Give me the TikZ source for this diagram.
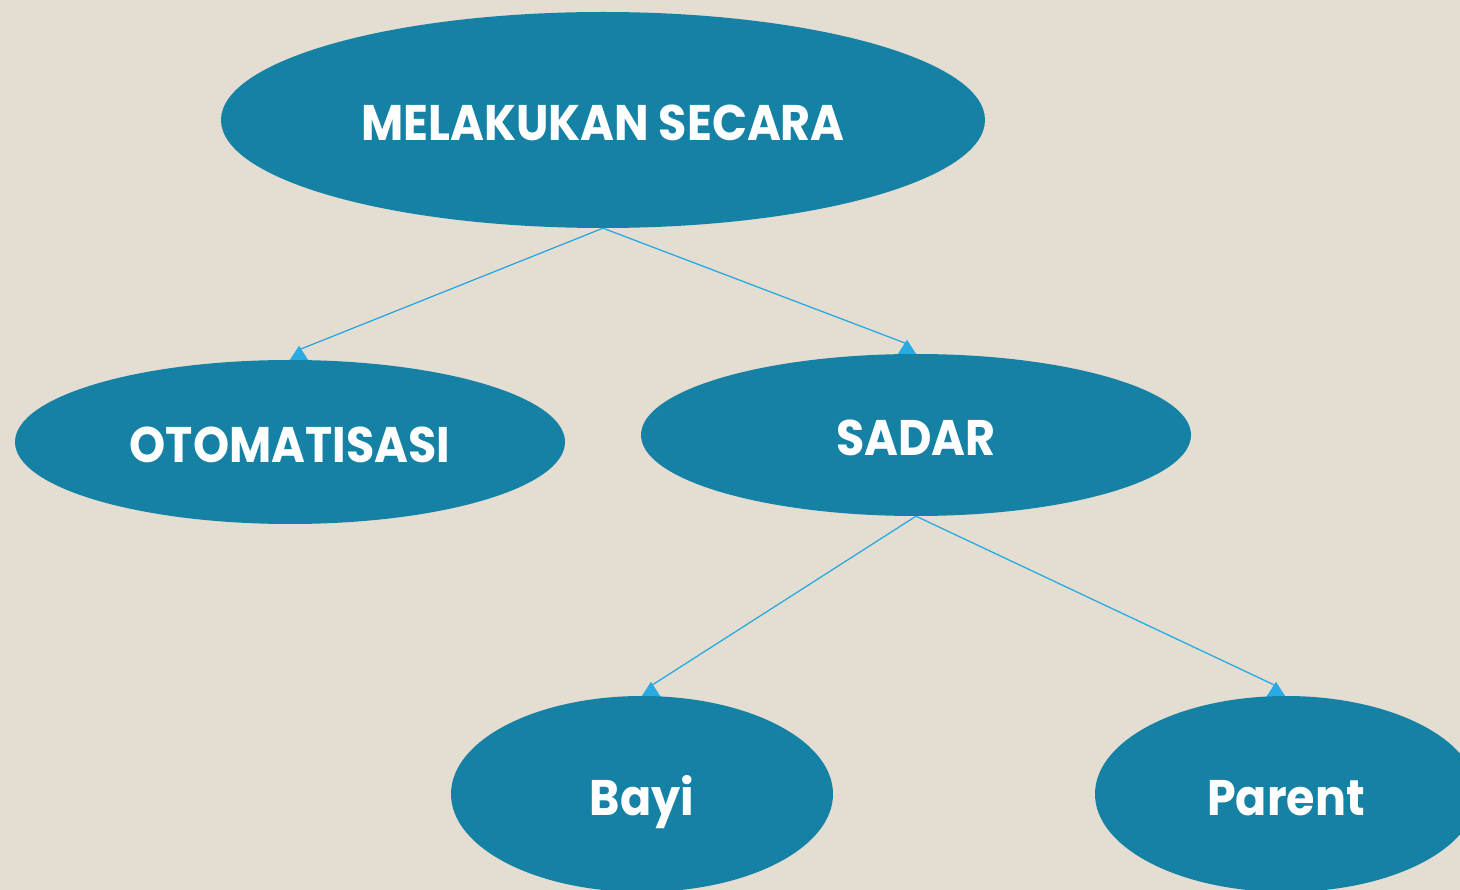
\documentclass[tikz,border=0pt]{standalone}
\usepackage{fontspec}
\setmainfont{Poppins}[FakeStretch=0.92]
\usetikzlibrary{shapes.geometric}
\definecolor{bgc}{HTML}{E3DDD2}
\definecolor{blobc}{HTML}{1582A5}
\definecolor{linec}{HTML}{29ABE2}
\pgfdeclarelayer{bglayer}
\pgfdeclarelayer{linelayer}
\pgfsetlayers{bglayer,linelayer,main}
\tikzset{
  blob/.style={ellipse, fill=blobc, draw=none, inner sep=0pt, text=white,
    font=\fontsize{50}{50}\selectfont\bfseries, text height=42pt, text depth=0pt},
  conn/.style={draw=linec, line width=1.3pt},
  tipc/.style={fill=linec, draw=none}
}
\begin{document}
\begin{tikzpicture}[x=1pt,y=-1pt]
\begin{pgfonlayer}{bglayer}
\fill[bgc] (0,0) rectangle (1460,890);
\end{pgfonlayer}
\clip (0,0) rectangle (1460,890);
\node[blob, minimum width=764pt, minimum height=216pt] (top) at (603,120) {MELAKUKAN SECARA};
\node[blob, minimum width=550pt, minimum height=164pt] (oto) at (290,442) {OTOMATISASI};
\node[blob, minimum width=550pt, minimum height=162pt] (sad) at (916,435) {SADAR};
\node[blob, minimum width=382pt, minimum height=196pt] (bay) at (642,794) {Bayi};
\node[blob, minimum width=382pt, minimum height=196pt] (par) at (1286,794) {Parent};
\begin{pgfonlayer}{linelayer}
\draw[conn] (top.south) -- ([xshift=9pt,yshift=10pt]oto.north);
\draw[conn] (top.south) -- ([xshift=-9pt,yshift=10pt]sad.north);
\draw[conn] (sad.south) -- ([xshift=9pt,yshift=10pt]bay.north);
\draw[conn] (sad.south) -- ([xshift=-10pt,yshift=10pt]par.north);
\foreach \n/\dx in {oto/9,sad/-9,bay/9,par/-10}{
  \fill[tipc] ([xshift=\dx pt]\n.north) ++(-11,3) -- ++(11,-17) -- ++(11,17) -- cycle;
}
\end{pgfonlayer}
\end{tikzpicture}
\end{document}
